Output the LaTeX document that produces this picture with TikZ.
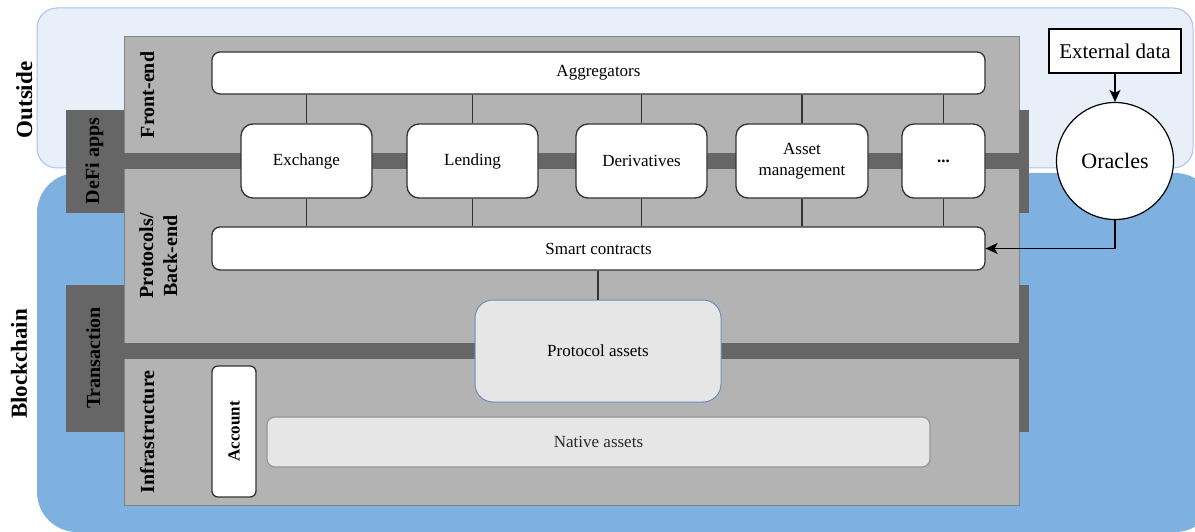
\documentclass[tikz,border=0pt]{standalone}
\usepackage{fontspec}
\setmainfont{Liberation Serif}
\usetikzlibrary{arrows.meta}

\definecolor{outsidefill}{RGB}{233,239,249}
\definecolor{outsideline}{RGB}{169,196,235}
\definecolor{chainfill}{RGB}{126,176,224}
\definecolor{panelfill}{RGB}{179,179,179}
\definecolor{panelline}{RGB}{130,130,130}
\definecolor{spine}{RGB}{102,102,102}
\definecolor{assetfill}{RGB}{230,230,230}
\definecolor{assetline}{RGB}{108,142,191}
\definecolor{nativeline}{RGB}{150,150,150}
\definecolor{ink}{RGB}{40,40,40}
\definecolor{wire}{RGB}{51,51,51}

\tikzset{
  boxtext/.style={font=\fontsize{17}{21}\selectfont, text=black, align=center},
  whitebox/.style={boxtext, draw=wire, line width=1.3pt, fill=white,
                   rounded corners=8pt, inner sep=0pt},
  appbox/.style={whitebox, rounded corners=12pt, minimum width=131pt, minimum height=74pt},
  sidelabel/.style={font=\fontsize{20}{24}\selectfont\bfseries, rotate=90, anchor=base, text=black},
  zonelabel/.style={font=\fontsize{23}{27}\selectfont\bfseries, rotate=90, anchor=base, text=black},
  link/.style={draw=wire, line width=1.8pt},
  flow/.style={draw=black, line width=1.3pt, -{Stealth[length=12pt,width=11pt,inset=3pt]}}
}

\begin{document}
\begin{tikzpicture}[x=1pt,y=-1pt]
\useasboundingbox (0,0) rectangle (1195,532);
\clip (0,0) rectangle (1195,532);

% environment zones
\draw[fill=outsidefill, draw=outsideline, line width=1pt, rounded corners=20pt]
  (37,8) rectangle (1193,168);
\fill[chainfill, rounded corners=40pt] (37,173) rectangle (1215,532);

\node[zonelabel] (outside) at (32,100) {Outside};
\node[zonelabel] (chain) at (27,364) {Blockchain};

% DeFi stack panel
\draw[fill=panelfill, draw=panelline, line width=1pt] (124,37) rectangle (1019,505);

% DeFi apps spine
\fill[spine] (66,110) rectangle (124,213);
\fill[spine] (124,153) rectangle (1019,169);
\fill[spine] (1019,110) rectangle (1029,213);
% Transaction spine
\fill[spine] (66,285) rectangle (124,432);
\fill[spine] (124,343) rectangle (1019,359);
\fill[spine] (1019,285) rectangle (1029,432);

\node[sidelabel] (defi) at (99,161) {DeFi apps};
\node[sidelabel] (tx) at (100,358) {Transaction};

\node[sidelabel] (front) at (154,95) {Front-end};
\node[sidelabel] (back) at (153,256) {Protocols/};
\node[sidelabel] (back2) at (177,256) {Back-end};
\node[sidelabel] (infra) at (154,432) {Infrastructure};

% front-end and protocol boxes
\node[whitebox, minimum width=773pt, minimum height=42pt] (agg) at (598.5,73) {Aggregators};
\node[appbox] (exch) at (306.5,161) {Exchange};
\node[appbox] (lend) at (472.5,161) {Lending};
\node[appbox] (deriv) at (641.5,161) {Derivatives};
\node[appbox, minimum width=132pt] (amgmt) at (802,161) {Asset\\management};
\node[appbox, minimum width=83pt, font=\fontsize{17}{21}\selectfont\bfseries] (more) at (943.5,161) {...};
\node[whitebox, minimum width=773pt, minimum height=43pt] (sc) at (598.5,248.5) {Smart contracts};

\foreach \n in {exch,lend,deriv,amgmt,more}{
  \draw[link] (\n.north) -- (\n.north |- agg.south);
  \draw[link] (\n.south) -- (\n.south |- sc.north);
}

% assets
\node[boxtext, draw=assetline, line width=1pt, fill=assetfill, rounded corners=18pt,
      minimum width=246pt, minimum height=102pt, inner sep=0pt] (pa) at (598,351) {Protocol assets};
\draw[link] (pa.north) -- (pa.north |- sc.south);

\node[boxtext, text=ink, draw=nativeline, line width=1.2pt, fill=assetfill, rounded corners=8pt,
      minimum width=663pt, minimum height=50pt, inner sep=0pt] (native) at (598.5,442) {Native assets};

\node[whitebox, rounded corners=6pt, minimum width=44pt, minimum height=131pt] (acct) at (234,431.5) {};
\node[font=\fontsize{17}{21}\selectfont\bfseries, rotate=90, anchor=base] (accttext) at (239.5,431.5) {Account};

% oracle feed
\node[boxtext, draw=black, line width=1.2pt, fill=white, font=\fontsize{21}{25}\selectfont,
      minimum width=132pt, minimum height=44pt, inner sep=0pt] (ext) at (1115,51) {External data};
\node[boxtext, circle, draw=black, line width=1.2pt, fill=white, font=\fontsize{22}{26}\selectfont,
      minimum size=117pt, inner sep=0pt] (orc) at (1115,161) {Oracles};

\draw[flow] (ext.south) -- (orc.north);
\draw[flow] (orc.south) |- (sc.east);
\end{tikzpicture}
\end{document}
